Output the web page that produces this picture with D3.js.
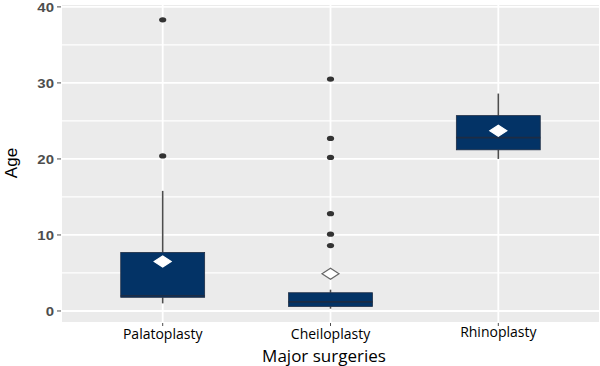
<!DOCTYPE html>
<html><head><meta charset="utf-8">
<script src="https://cdn.jsdelivr.net/npm/d3@7"></script>
<style>body{margin:0;background:#fff}svg{display:block}</style>
</head><body>
<script>
const categories = ["Palatoplasty", "Cheiloplasty", "Rhinoplasty"];
const whiskerLow  = [1.0, 0.3, 20.0];
const q1          = [1.8, 0.6, 21.2];
const median      = [2.0, 1.2, 22.8];
const q3          = [7.7, 2.4, 25.7];
const whiskerHigh = [15.8, 2.8, 28.6];
const means       = [6.5, 4.9, 23.7];
const outliers    = [[20.4, 38.3], [8.6, 10.1, 12.8, 20.2, 22.7, 30.5], []];
const yTicks = [0, 10, 20, 30, 40];
const yMinor = [5, 15, 25, 35];

(function() {
const W = 600, H = 366;
const svg = d3.select("body").append("svg").attr("width", W).attr("height", H);
const pL = 62, pR = 599, pT = 5, pB = 322;

const x = d3.scalePoint().domain(categories).range([pL, pR]).padding(0.6);
const y = d3.scaleLinear().domain([-1.45, 40.25]).range([pB, pT]);
const bw = x.step() * 0.5;

svg.append("rect").attr("x", pL).attr("y", pT).attr("width", pR - pL).attr("height", pB - pT).attr("fill", "#ebebeb");

svg.selectAll(".minor").data(yMinor).enter().append("line")
  .attr("x1", pL).attr("x2", pR).attr("y1", d => y(d)).attr("y2", d => y(d))
  .attr("stroke", "#fff").attr("stroke-width", 1.2);
svg.selectAll(".major").data(yTicks).enter().append("line")
  .attr("x1", pL).attr("x2", pR).attr("y1", d => y(d)).attr("y2", d => y(d))
  .attr("stroke", "#fff").attr("stroke-width", 1.8);
svg.selectAll(".vmajor").data(categories).enter().append("line")
  .attr("x1", d => x(d)).attr("x2", d => x(d)).attr("y1", pT).attr("y2", pB)
  .attr("stroke", "#fff").attr("stroke-width", 1.8);

const data = categories.map((c, i) => ({c, lo: whiskerLow[i], q1: q1[i], med: median[i], q3: q3[i], hi: whiskerHigh[i], mean: means[i], out: outliers[i]}));

const g = svg.selectAll(".box").data(data).enter().append("g");
g.append("line").attr("x1", d => x(d.c)).attr("x2", d => x(d.c))
  .attr("y1", d => y(d.hi)).attr("y2", d => y(d.q3)).attr("stroke", "#4d4d4d").attr("stroke-width", 1.6);
g.append("line").attr("x1", d => x(d.c)).attr("x2", d => x(d.c))
  .attr("y1", d => y(d.q1)).attr("y2", d => y(d.lo)).attr("stroke", "#4d4d4d").attr("stroke-width", 1.6);
g.append("rect").attr("x", d => x(d.c) - bw / 2).attr("width", bw)
  .attr("y", d => y(d.q3)).attr("height", d => y(d.q1) - y(d.q3))
  .attr("fill", "#033366").attr("stroke", "#1f2d45").attr("stroke-width", 0.8);
g.append("line").attr("x1", d => x(d.c) - bw / 2).attr("x2", d => x(d.c) + bw / 2)
  .attr("y1", d => y(d.med)).attr("y2", d => y(d.med)).attr("stroke", "#1d2c44").attr("stroke-width", 1.6);

g.each(function(d) {
  d3.select(this).selectAll("ellipse").data(d.out).enter().append("ellipse")
    .attr("cx", x(d.c)).attr("cy", v => y(v)).attr("rx", 3.6).attr("ry", 2.6).attr("fill", "#333");
});

g.append("path")
  .attr("d", d => { const cx = x(d.c), cy = y(d.mean), a = 8.5, b = 5.5;
    return `M${cx - a},${cy}L${cx},${cy - b}L${cx + a},${cy}L${cx},${cy + b}Z`; })
  .attr("fill", "#fff")
  .attr("stroke", d => (d.mean > d.q3 || d.mean < d.q1) ? "#666" : "#fff")
  .attr("stroke-width", 1.2);

const ya = svg.append("g");
yTicks.forEach(t => {
  ya.append("line").attr("x1", pL - 5).attr("x2", pL - 1).attr("y1", y(t)).attr("y2", y(t)).attr("stroke", "#4d4d4d").attr("stroke-width", 1);
  ya.append("text").attr("x", pL - 8).attr("y", y(t)).attr("dy", "0.36em").attr("text-anchor", "end")
    .attr("font-family", "Liberation Sans, Arial, sans-serif").attr("font-weight", "bold").attr("font-size", 13)
    .attr("fill", "#4d4d4d").attr("transform", `translate(${pL - 8},0) scale(1.15,1) translate(${-(pL - 8)},0)`).text(t);
});
svg.append("text").attr("transform", `translate(17,163) rotate(-90)`).attr("text-anchor", "middle")
  .attr("font-family", "Liberation Sans, Arial, sans-serif").attr("font-size", 17).attr("fill", "#000").text("Age");

categories.forEach((c, i) => {
  svg.append("line").attr("x1", x(c)).attr("x2", x(c)).attr("y1", pB + 1).attr("y2", pB + 4).attr("stroke", "#4d4d4d");
  svg.append("text").attr("x", x(c)).attr("y", [339, 339, 337][i]).attr("text-anchor", "middle")
    .attr("font-family", "Open Sans, sans-serif").attr("font-size", 14).attr("fill", "#000").text(c);
});
svg.append("text").attr("x", 324).attr("y", 362).attr("text-anchor", "middle")
  .attr("font-family", "Open Sans, sans-serif").attr("font-size", 17).attr("fill", "#000").text("Major surgeries");
})();
</script>
</body></html>
